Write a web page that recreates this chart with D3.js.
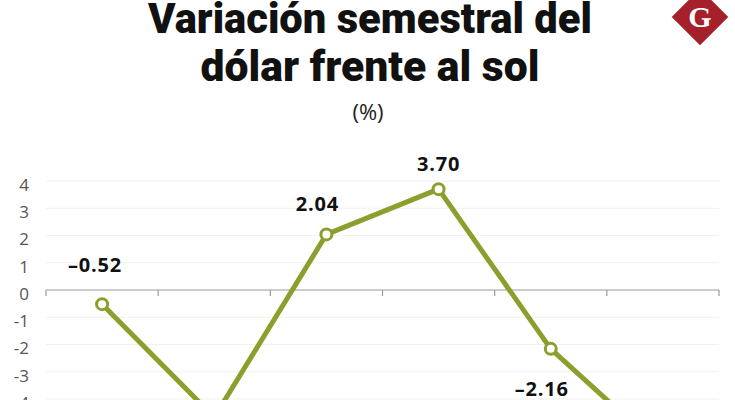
<!DOCTYPE html>
<html>
<head>
  <meta charset="utf-8">
  <title>Variación semestral del dólar frente al sol</title>
  <style>
    body { margin: 0; background: #fff; }
    svg { display: block; }
    .title { font-family: Roboto, "Open Sans", sans-serif; font-weight: 900; fill: #111; }
    .sub { font-family: "Open Sans", sans-serif; font-size: 22px; fill: #222; }
    .tick-lbl { font-family: "Open Sans", sans-serif; font-size: 17px; fill: #555; }
    .val { font-family: "Open Sans", sans-serif; font-weight: 700; font-size: 20px; letter-spacing: 0.8px; fill: #111; }
  </style>
</head>
<body>
  <script src="https://d3js.org/d3.v7.min.js"></script>
  <script>
    // semesters (their labels sit below the visible area)
    const categories = ["Sem 1", "Sem 2", "Sem 3", "Sem 4", "Sem 5", "Sem 6"];
    const values = [-0.52, -4.67, 2.04, 3.70, -2.16, -5.9];
    const yTicks = [-4, -3, -2, -1, 0, 1, 2, 3, 4];
    const titleLines = ["Variación semestral del", "dólar frente al sol"];

    // label placement relative to each point (dx, dy to baseline)
    const labelOffsets = [[-7, -32], [0, 42], [-9, -23], [0, -18], [-9, 47], [0, 42]];

    const width = 735, height = 400;
    const green = "#8c9f2d";

    const svg = d3.select("body").append("svg")
      .attr("width", width).attr("height", height);

    // title, sized to the reference widths
    const tw = [444, 339];
    titleLines.forEach((t, i) => {
      const el = svg.append("text").attr("class", "title")
        .attr("x", 370).attr("y", i ? 81 : 33)
        .attr("text-anchor", "middle")
        .style("font-size", "40px")
        .text(t);
      const w = el.node().getComputedTextLength();
      el.style("font-size", (40 * tw[i] / w) + "px");
    });
    svg.append("text").attr("class", "sub")
      .attr("x", 368).attr("y", 120).attr("text-anchor", "middle").text("(%)");

    // logo
    const logo = svg.append("g").attr("transform", "translate(700,17)");
    logo.append("rect").attr("x", -20).attr("y", -20).attr("width", 40).attr("height", 40)
      .attr("transform", "rotate(45)").attr("fill", "#a5202a");
    logo.append("text").attr("text-anchor", "middle").attr("y", 10)
      .style("font-family", "'Liberation Serif', serif").style("font-weight", 700)
      .style("font-size", "30px").attr("fill", "#fff").text("G");

    // scales
    const x = d3.scaleBand().domain(categories).range([46, 719]);
    const y = d3.scaleLinear().domain([0, 4]).range([290, 181]);

    // gridlines
    svg.append("g").selectAll("line")
      .data(yTicks.filter(d => d !== 0))
      .join("line")
      .attr("x1", 46).attr("x2", 719)
      .attr("y1", d => y(d)).attr("y2", d => y(d))
      .attr("stroke", "#f1f1ee").attr("stroke-width", 1);

    // y tick labels
    svg.append("g").selectAll("text")
      .data(yTicks)
      .join("text")
      .attr("class", "tick-lbl")
      .attr("x", 29).attr("y", d => y(d) + 4)
      .attr("dy", "0.35em")
      .attr("text-anchor", "end")
      .text(d => d < 0 ? "-" + Math.abs(d) : d);

    // zero axis with ticks at band edges
    const gx = svg.append("g").attr("transform", `translate(0,${y(0)})`);
    gx.append("line").attr("x1", 46).attr("x2", 719).attr("stroke", "#9a9a9a").attr("stroke-width", 1.2);
    gx.selectAll(".edge")
      .data(categories.map(c => x(c)).concat([x.range()[1]]))
      .join("line")
      .attr("class", "edge")
      .attr("x1", d => d).attr("x2", d => d)
      .attr("y1", 0).attr("y2", 6)
      .attr("stroke", "#9a9a9a").attr("stroke-width", 1.2);

    const cx = (d, i) => x(categories[i]) + x.bandwidth() / 2;

    // line
    svg.append("path")
      .datum(values)
      .attr("fill", "none")
      .attr("stroke", green)
      .attr("stroke-width", 5)
      .attr("stroke-linejoin", "round")
      .attr("d", d3.line().x(cx).y(d => y(d)));

    // markers
    svg.append("g").selectAll("circle")
      .data(values)
      .join("circle")
      .attr("cx", cx).attr("cy", d => y(d))
      .attr("r", 5.5)
      .attr("fill", "#fff")
      .attr("stroke", green)
      .attr("stroke-width", 3);

    // value labels
    const fmt = d => d3.format(".2f")(Math.abs(d));
    svg.append("g").selectAll("text")
      .data(values)
      .join("text")
      .attr("class", "val")
      .attr("text-anchor", "middle")
      .attr("x", (d, i) => cx(d, i) + labelOffsets[i][0])
      .attr("y", (d, i) => y(d) + labelOffsets[i][1])
      .text(d => (d < 0 ? "–" : "") + fmt(d));
  </script>
</body>
</html>
